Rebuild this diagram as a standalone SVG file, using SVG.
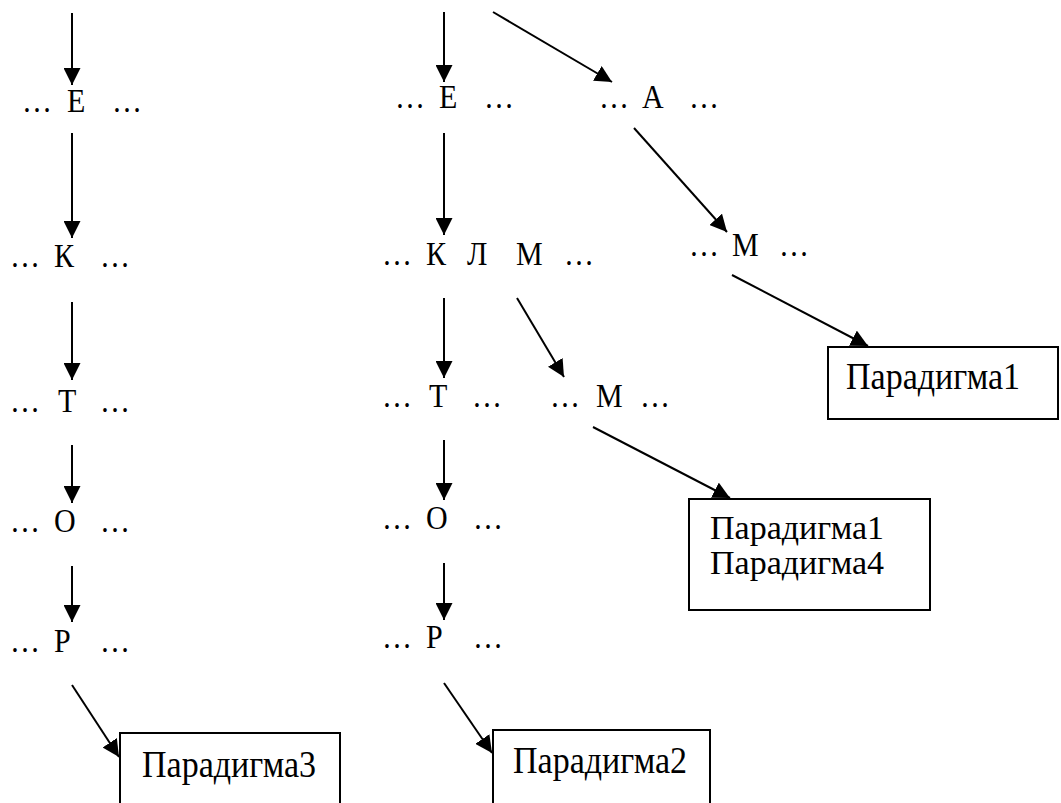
<svg xmlns="http://www.w3.org/2000/svg" width="1061" height="803" viewBox="0 0 1061 803">
<style>
.t{font-size:30px;fill:#000}
.b{font-size:34px;fill:#000}
.box{fill:#fff;stroke:#000;stroke-width:2}
.c line{stroke:#000;stroke-width:2;marker-end:url(#ah)}
</style>
<defs>
<marker id="ah" markerUnits="userSpaceOnUse" markerWidth="17" markerHeight="17" refX="17" refY="8.5" orient="auto">
<path d="M0,0 L17,8.5 L0,17 Z" fill="#000"/>
</marker>
</defs>
<rect width="1061" height="803" fill="#fff"/>
<g font-family="Liberation Serif, DejaVu Serif, serif">
<g id="L-E"><text class="t" transform="translate(0,112) scale(1,1.13)"><tspan x="22">…</tspan><tspan x="67">Е</tspan><tspan x="112">…</tspan></text></g>
<g id="L-K"><text class="t" transform="translate(0,267) scale(1,1.13)"><tspan x="10">…</tspan><tspan x="54">К</tspan><tspan x="100">…</tspan></text></g>
<g id="L-T"><text class="t" transform="translate(0,412) scale(1,1.13)"><tspan x="10">…</tspan><tspan x="58">Т</tspan><tspan x="100">…</tspan></text></g>
<g id="L-O"><text class="t" transform="translate(0,532) scale(1,1.13)"><tspan x="10">…</tspan><tspan x="54">О</tspan><tspan x="100">…</tspan></text></g>
<g id="L-P"><text class="t" transform="translate(0,652) scale(1,1.13)"><tspan x="10">…</tspan><tspan x="54">Р</tspan><tspan x="100">…</tspan></text></g>

<g id="M-E"><text class="t" transform="translate(0,108) scale(1,1.13)"><tspan x="395">…</tspan><tspan x="439">Е</tspan><tspan x="484">…</tspan></text></g>
<g id="M-A"><text class="t" transform="translate(0,108) scale(1,1.13)"><tspan x="599">…</tspan><tspan x="642">А</tspan><tspan x="689">…</tspan></text></g>
<g id="M-KLM"><text class="t" transform="translate(0,265) scale(1,1.13)"><tspan x="382">…</tspan><tspan x="426">К</tspan><tspan x="467">Л</tspan><tspan x="516">М</tspan><tspan x="564">…</tspan></text></g>
<g id="R-M"><text class="t" transform="translate(0,256) scale(1,1.13)"><tspan x="689">…</tspan><tspan x="732">М</tspan><tspan x="779">…</tspan></text></g>
<g id="M-T"><text class="t" transform="translate(0,407) scale(1,1.13)"><tspan x="382">…</tspan><tspan x="429">Т</tspan><tspan x="472">…</tspan></text></g>
<g id="M-M"><text class="t" transform="translate(0,407) scale(1,1.13)"><tspan x="550">…</tspan><tspan x="596">М</tspan><tspan x="640">…</tspan></text></g>
<g id="M-O"><text class="t" transform="translate(0,529) scale(1,1.13)"><tspan x="382">…</tspan><tspan x="426">О</tspan><tspan x="473">…</tspan></text></g>
<g id="M-P"><text class="t" transform="translate(0,648) scale(1,1.13)"><tspan x="382">…</tspan><tspan x="426">Р</tspan><tspan x="473">…</tspan></text></g>

<g id="box1"><rect class="box" x="828" y="347" width="230" height="72"/><text class="b" transform="translate(846,389) scale(1,1.13)">Парадигма1</text></g>
<g id="box14"><rect class="box" x="689" y="499" width="241" height="111"/><text class="b" x="710" y="539">Парадигма1</text><text class="b" x="710" y="574">Парадигма4</text></g>
<g id="box2"><rect class="box" x="493" y="730" width="217" height="100"/><text class="b" transform="translate(513,773) scale(1,1.13)">Парадигма2</text></g>
<g id="box3"><rect class="box" x="120" y="733" width="220" height="100"/><text class="b" transform="translate(142,777) scale(1,1.13)">Парадигма3</text></g>
</g>
<g id="connectors" class="c">
<line x1="72" y1="13" x2="72" y2="85"/>
<line x1="72" y1="133" x2="72" y2="238"/>
<line x1="72" y1="302" x2="72" y2="380"/>
<line x1="72" y1="445" x2="72" y2="503"/>
<line x1="72" y1="566" x2="72" y2="622"/>
<line x1="72" y1="685" x2="119" y2="757"/>
<line x1="444" y1="12" x2="444" y2="82"/>
<line x1="444" y1="133" x2="444" y2="235"/>
<line x1="444" y1="298" x2="444" y2="378"/>
<line x1="444" y1="440" x2="444" y2="500"/>
<line x1="444" y1="563" x2="444" y2="620"/>
<line x1="444" y1="683" x2="492" y2="753"/>
<line x1="493" y1="12" x2="612" y2="82"/>
<line x1="634" y1="128" x2="727" y2="232"/>
<line x1="732" y1="275" x2="868" y2="346"/>
<line x1="517" y1="298" x2="564" y2="377"/>
<line x1="593" y1="427" x2="730" y2="498"/>
</g>
</svg>
